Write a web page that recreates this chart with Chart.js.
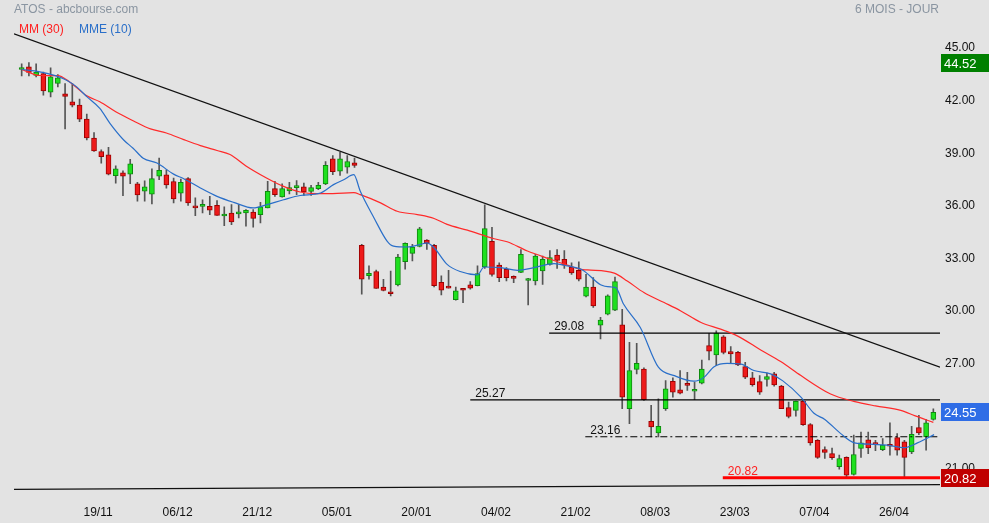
<!DOCTYPE html>
<html>
<head>
    <title>ATOS - 6 mois</title>
    <script src="https://cdn.jsdelivr.net/npm/chart.js"></script>
    <style>
        body { margin: 0; background: #e3e3e3; }
    </style>
</head>
<body>

<canvas id="myChart" width="989" height="523"></canvas>

<script>
    // daily candles, index 0 = 05/11
    var opens = [44.12, 44.27, 43.79, 43.89, 42.83, 43.32, 42.73, 42.28, 42.09, 41.29,
                 40.21, 39.44, 39.25, 38.06, 38.23, 38.15, 37.60, 37.18, 37.01, 38.04,
                 38.11, 37.73, 37.07, 37.89, 36.33, 36.31, 36.31, 36.37, 35.76, 35.92,
                 35.88, 35.93, 35.98, 35.84, 36.22, 37.32, 36.85, 37.19, 37.38, 37.42,
                 37.17, 37.32, 37.59, 39.03, 38.32, 38.55, 38.80, 34.08, 32.36, 32.59,
                 31.71, 31.41, 31.83, 33.15, 33.63, 34.03, 34.38, 34.08, 31.98, 31.66,
                 30.99, 31.54, 31.83, 31.79, 32.85, 34.32, 32.96, 32.71, 32.22, 32.54,
                 32.08, 32.05, 32.62, 33.00, 33.53, 33.28, 32.85, 32.66, 31.18, 31.71,
                 29.53, 30.16, 30.39, 29.55, 24.76, 27.01, 27.03, 24.04, 23.38, 24.76,
                 26.33, 25.84, 26.18, 25.76, 26.22, 28.36, 27.83, 28.87, 28.02, 27.98,
                 27.16, 26.52, 26.31, 26.43, 26.75, 26.05, 24.82, 24.67, 25.18, 23.85,
                 22.96, 22.43, 22.20, 21.45, 21.98, 21.01, 22.49, 22.98, 22.73, 22.43,
                 22.68, 23.11, 22.87, 22.30, 23.68, 23.15, 24.15];
    var highs = [44.45, 44.52, 44.45, 43.98, 44.21, 43.83, 43.32, 43.32, 42.43, 41.58,
                 40.52, 39.53, 39.68, 38.62, 38.34, 39.00, 37.68, 37.77, 38.45, 39.06,
                 38.40, 37.92, 37.87, 37.96, 36.79, 36.69, 36.88, 36.64, 36.29, 36.41,
                 36.41, 36.12, 36.13, 36.54, 37.74, 37.74, 37.59, 37.68, 37.78, 37.64,
                 37.51, 37.68, 38.87, 39.21, 39.40, 39.21, 39.06, 34.14, 32.91, 32.68,
                 32.15, 32.62, 33.57, 34.23, 34.14, 35.12, 34.42, 34.14, 32.34, 32.66,
                 31.71, 31.58, 32.02, 32.91, 36.40, 35.12, 33.09, 32.81, 32.34, 33.85,
                 32.20, 33.57, 33.47, 33.79, 33.85, 33.79, 33.09, 33.15, 32.43, 32.24,
                 29.97, 31.26, 32.28, 30.44, 28.55, 28.49, 27.10, 24.95, 25.33, 26.37,
                 26.52, 26.94, 26.84, 26.28, 27.54, 29.06, 29.21, 28.93, 28.30, 28.04,
                 27.41, 26.84, 26.65, 26.79, 26.84, 26.09, 25.14, 25.20, 25.24, 23.91,
                 23.00, 22.58, 22.52, 22.11, 22.01, 23.25, 23.43, 23.43, 22.96, 23.06,
                 23.95, 23.34, 22.96, 23.76, 24.38, 24.14, 24.76];
    var lows = [43.76, 43.76, 43.70, 42.66, 42.56, 43.13, 40.73, 41.99, 41.14, 40.10,
                39.44, 38.78, 38.11, 37.64, 36.92, 37.60, 36.60, 36.60, 36.45, 37.83,
                37.35, 36.50, 36.60, 36.37, 35.78, 35.93, 35.84, 35.80, 35.21, 35.27,
                35.65, 35.18, 35.12, 35.37, 36.22, 36.88, 36.83, 37.02, 36.98, 36.94,
                36.94, 37.26, 37.55, 38.12, 38.08, 38.21, 38.53, 31.30, 32.15, 31.62,
                31.49, 31.20, 31.77, 32.72, 33.19, 33.99, 33.85, 31.71, 31.26, 31.64,
                30.96, 30.82, 31.58, 31.77, 32.77, 32.33, 32.01, 32.05, 31.96, 32.52,
                30.69, 31.82, 31.86, 32.96, 32.77, 32.77, 32.43, 32.05, 31.14, 30.54,
                28.74, 30.12, 30.35, 24.76, 23.91, 26.75, 25.23, 23.15, 23.15, 24.67,
                25.42, 25.61, 25.80, 25.27, 26.18, 27.54, 27.22, 27.89, 27.35, 27.22,
                26.47, 26.05, 25.57, 26.05, 26.05, 24.76, 24.23, 24.34, 23.81, 22.68,
                21.92, 21.92, 21.86, 21.31, 20.82, 20.97, 21.98, 22.20, 22.36, 22.36,
                22.11, 22.11, 20.85, 22.20, 23.28, 22.39, 24.10];
    var closes = [44.14, 43.95, 43.98, 42.90, 43.70, 43.64, 42.58, 42.09, 41.29, 40.21,
                  39.48, 39.14, 38.15, 38.45, 38.04, 38.74, 36.96, 37.43, 37.89, 38.36,
                  37.54, 36.73, 37.68, 36.50, 36.22, 36.43, 36.09, 35.80, 35.86, 35.42,
                  35.97, 36.09, 35.62, 36.28, 37.17, 36.98, 37.32, 37.38, 37.40, 37.13,
                  37.38, 37.51, 38.65, 38.29, 39.03, 38.87, 38.65, 32.15, 32.49, 31.62,
                  31.51, 31.32, 33.42, 34.20, 33.99, 35.03, 34.20, 31.79, 31.53, 31.64,
                  31.49, 31.52, 31.64, 32.47, 35.04, 32.43, 32.24, 32.24, 32.20, 33.57,
                  32.12, 33.47, 33.28, 33.38, 33.23, 32.96, 32.51, 32.15, 31.71, 30.63,
                  29.82, 31.20, 32.01, 25.42, 26.94, 27.35, 25.27, 23.72, 23.76, 25.90,
                  25.71, 25.65, 26.09, 25.78, 27.03, 28.04, 29.08, 27.98, 27.89, 27.26,
                  26.56, 26.14, 25.71, 26.60, 26.12, 24.76, 24.32, 25.18, 23.85, 22.81,
                  21.98, 22.26, 21.96, 21.92, 20.97, 22.15, 22.81, 22.53, 22.71, 22.68,
                  22.62, 22.39, 21.98, 23.30, 23.38, 23.96, 24.55];

    // moving averages (candle index, value)
    var mm30Idx = [0, 2.5, 5, 6.5, 9, 10.8, 13, 15.4, 17.8, 20, 22.4, 24.7, 27, 28.8, 31, 33.9,
                   36.2, 38.5, 40.8, 43, 45.9, 46.8, 49.6, 51.9, 54.7, 57, 58.8, 61.6, 65.3,
                   67.1, 69.9, 73.1, 75.4, 77.3, 78.2, 81.9, 83.7, 86, 88.8, 91.1, 93.9, 96.6,
                   98.9, 102.2, 104.9, 107.7, 111.8, 115, 118, 121.5, 123.5, 126];
    var mm30Val = [44.13, 43.78, 43.77, 43.45, 42.62, 42.28, 41.71, 41.20, 40.73, 40.50, 40.12,
                   39.78, 39.50, 39.27, 38.62, 37.92, 37.45, 37.13, 37.04, 37.04, 37.09, 36.98,
                   36.51, 36.03, 35.84, 35.62, 35.28, 34.95, 34.46, 34.29, 33.76, 33.29, 32.96,
                   32.71, 32.68, 32.50, 32.05, 31.39, 30.82, 30.34, 29.68, 29.30, 28.92, 28.10,
                   27.45, 26.65, 25.60, 25.18, 24.92, 24.67, 24.35, 23.98];
    var mme10Idx = [0, 2.5, 4.4, 6.2, 7.6, 9, 10.8, 12.2, 14.1, 15.4, 16.8, 18.7, 21, 22.4, 24.7,
                    27, 29.3, 32, 33.9, 36.2, 38.5, 41.3, 43.1, 44.5, 45.9, 46.8, 48.7, 50.5,
                    51.4, 53.3, 55.1, 56, 57, 58.8, 60.6, 63, 63.9, 66.2, 68.5, 70.8, 73.6, 75.4,
                    77.5, 80, 81.4, 82.1, 83.2, 85.5, 88, 90.2, 92.9, 94.3, 95.7, 97.5, 99.4,
                    101.2, 103.5, 105.2, 107.7, 109.5, 111, 113.2, 115.1, 117.8, 119.7, 122,
                    123.8, 126.1];
    var mme10Val = [44.12, 43.99, 43.80, 43.51, 43.13, 42.57, 41.90, 41.05, 40.10, 39.63, 39.06,
                    38.78, 38.15, 37.89, 37.36, 36.88, 36.54, 36.22, 36.41, 36.69, 36.93, 37.07,
                    37.55, 37.83, 38.12, 37.17, 35.65, 34.33, 34.04, 33.99, 34.14, 34.23, 33.95,
                    33.00, 32.59, 32.40, 32.85, 32.81, 32.66, 32.81, 33.04, 32.91, 32.68, 31.84,
                    31.71, 31.67, 30.72, 29.40, 27.13, 26.65, 26.33, 26.55, 27.16, 27.35, 27.31,
                    26.94, 26.75, 26.35, 25.42, 24.50, 24.15, 23.34, 22.81, 22.73, 22.68, 22.54,
                    22.81, 23.28];

    // support / resistance levels and where they start
    var levels = [29.08, 25.27, 23.16, 20.82];
    var levelStart = [72.9, 62.0, 77.9, 96.9];

    // trend lines, from left edge to right edge
    var trendIdx = [-1.06, 126.92];
    var topTrend = [46.16, 27.13];
    var bottomTrend = [20.16, 20.43];

    var tickIdx = [10, 21, 32, 43, 54, 65, 76, 87, 98, 109, 120];
    var tickLabels = ['19/11', '06/12', '21/12', '05/01', '20/01', '04/02', '21/02', '08/03', '23/03', '07/04', '26/04'];
    var yTicks = [21, 24, 27, 30, 33, 36, 39, 42, 45];

    var highest = 44.52;
    var lowest = 20.82;
    var last = closes[closes.length - 1];

    var wickData = [], bodyData = [], bodyFill = [], bodyEdge = [];
    for (var i = 0; i < closes.length; i++) {
        wickData.push({x: i, y: [lows[i], highs[i]]});
        bodyData.push({x: i, y: [opens[i], closes[i]]});
        var up = closes[i] >= opens[i];
        bodyFill.push(up ? '#1ee01e' : '#ee1a1a');
        bodyEdge.push(up ? '#0e8a0e' : '#9c0000');
    }

    function pts(xs, ys) {
        return xs.map(function (x, k) { return {x: x, y: ys[k]}; });
    }

    var levelStyles = [
        {color: '#000', width: 1.2, dash: []},
        {color: '#000', width: 1.2, dash: []},
        {color: '#000', width: 1.2, dash: [7, 3, 2, 3]},
        {color: '#ff0000', width: 3, dash: []}
    ];

    var datasets = [
        {label: 'wick', data: wickData, backgroundColor: '#555', barThickness: 1, grouped: false, order: 5},
        {label: 'body', data: bodyData, backgroundColor: bodyFill, borderColor: bodyEdge, borderWidth: 1,
         borderSkipped: false, barThickness: 5, minBarLength: 2, grouped: false, order: 4}
    ];
    levels.forEach(function (lv, k) {
        datasets.push({type: 'line', label: 'lvl' + k, data: pts([levelStart[k], trendIdx[1]], [lv, lv]),
            borderColor: levelStyles[k].color, borderWidth: levelStyles[k].width, borderDash: levelStyles[k].dash,
            pointRadius: 0, order: 3});
    });
    datasets.push({type: 'line', label: 'top', data: pts(trendIdx, topTrend), borderColor: '#111', borderWidth: 1.3, pointRadius: 0, order: 2});
    datasets.push({type: 'line', label: 'bottom', data: pts(trendIdx, bottomTrend), borderColor: '#111', borderWidth: 1.3, pointRadius: 0, order: 2});
    datasets.push({type: 'line', label: 'MM (30)', data: pts(mm30Idx, mm30Val), borderColor: '#ff2a2a', borderWidth: 1.2,
        pointRadius: 0, cubicInterpolationMode: 'monotone', order: 1});
    datasets.push({type: 'line', label: 'MME (10)', data: pts(mme10Idx, mme10Val), borderColor: '#2a6fc9', borderWidth: 1.2,
        pointRadius: 0, cubicInterpolationMode: 'monotone', order: 0});

    var FONT = 'Arial, "Liberation Sans", sans-serif';

    var overlay = {
        id: 'overlay',
        afterDraw: function (chart) {
            var c = chart.ctx, ys = chart.scales.y, xs = chart.scales.x;
            c.save();
            c.font = '12px ' + FONT;
            c.textBaseline = 'middle';
            c.textAlign = 'left';
            c.fillStyle = '#8a95a1';
            c.fillText('ATOS - abcbourse.com', 14, 10);
            c.textAlign = 'right';
            c.fillText('6 MOIS - JOUR', 939, 10);
            c.textAlign = 'left';
            c.fillStyle = '#ff2020';
            c.fillText('MM (30)', 19, 30);
            c.fillStyle = '#2a6fc9';
            c.fillText('MME (10)', 79, 30);

            // level labels
            c.textBaseline = 'alphabetic';
            levels.forEach(function (lv, k) {
                c.fillStyle = k === 3 ? '#ff2020' : '#111';
                c.fillText(lv.toFixed(2), xs.getPixelForValue(levelStart[k]) + 5, ys.getPixelForValue(lv) - 3);
            });

            // price boxes in the right margin
            var boxes = [[highest, '#008000'], [last, '#2f6de6'], [lowest, '#c00000']];
            c.textBaseline = 'middle';
            boxes.forEach(function (b) {
                var y = Math.round(ys.getPixelForValue(b[0]));
                c.fillStyle = b[1];
                c.fillRect(941, y - 9, 48, 18);
                c.fillStyle = '#fff';
                c.font = '13px ' + FONT;
                c.fillText(b[0].toFixed(2), 944, y + 1);
            });
            c.restore();
        }
    };

    var ctx = document.getElementById('myChart').getContext('2d');
    var myChart = new Chart(ctx, {
        type: 'bar',
        data: {datasets: datasets},
        options: {
            responsive: false,
            animation: false,
            layout: {padding: {left: 14, top: 10, right: 0, bottom: 0}},
            plugins: {legend: {display: false}, tooltip: {enabled: false}},
            scales: {
                x: {
                    type: 'linear', offset: false,
                    min: trendIdx[0], max: trendIdx[1],
                    grid: {display: false, drawTicks: false},
                    border: {display: false},
                    afterBuildTicks: function (s) { s.ticks = tickIdx.map(function (v) { return {value: v}; }); },
                    afterFit: function (s) { s.height = 28; },
                    ticks: {
                        autoSkip: false, maxRotation: 0, padding: 10, labelOffset: 4,
                        color: '#111', font: {family: FONT, size: 12},
                        callback: function (v) { return tickLabels[tickIdx.indexOf(v)]; }
                    }
                },
                y: {
                    position: 'right',
                    min: 19.836, max: 47.392,
                    grid: {display: false, drawTicks: false},
                    border: {display: false},
                    afterBuildTicks: function (s) { s.ticks = yTicks.map(function (v) { return {value: v}; }); },
                    afterFit: function (s) { s.width = 49; },
                    ticks: {
                        padding: 5, labelOffset: -6,
                        color: '#111', font: {family: FONT, size: 12},
                        callback: function (v) { return v.toFixed(2); }
                    }
                }
            }
        },
        plugins: [overlay]
    });
</script>

</body>
</html>
